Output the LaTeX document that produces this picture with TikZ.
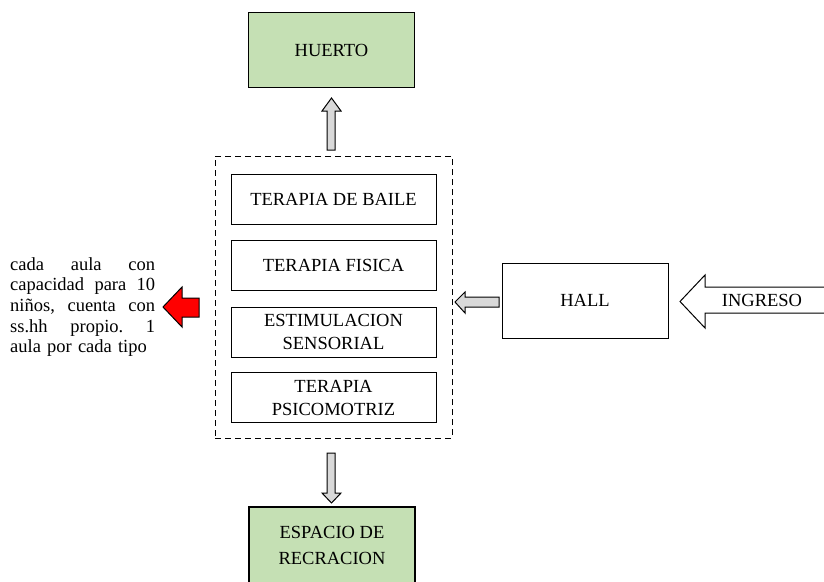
\documentclass[tikz,border=0pt]{standalone}
\usepackage{fontspec}
\setmainfont{Liberation Serif}
\definecolor{boxgreen}{RGB}{197,224,180}
\definecolor{arrgray}{RGB}{217,217,217}
\begin{document}
\begin{tikzpicture}[x=1pt,y=-1pt,
  every node/.style={font=\fontsize{18.5}{23}\selectfont, inner sep=0pt},
  greenbox/.style={draw=black, line width=1.3pt, fill=boxgreen, minimum width=166pt, minimum height=75pt, align=center},
  plainbox/.style={draw=black, line width=1pt, fill=white, minimum width=205pt, minimum height=50pt, align=center},
  blockarrow/.style={draw=black, line width=1pt, fill=arrgray, line join=miter}]
\useasboundingbox (0,0) rectangle (824,581);
\clip (0,0) rectangle (824,581);
% boxes
\node[greenbox] (huerto) at (331.5,50) {HUERTO};
\node[greenbox, minimum height=76pt, font=\fontsize{18.5}{26}\selectfont] (espacio) at (332,545) {ESPACIO DE\\RECRACION};
\node[draw=black, line width=1pt, dash pattern=on 6pt off 4pt, minimum width=237pt, minimum height=282pt] (group) at (333.5,297) {};
\node[plainbox] (baile) at (333.5,199) {TERAPIA DE BAILE};
\node[plainbox] (fisica) at (333.5,265.5) {TERAPIA FISICA};
\node[plainbox] (estim) at (333.5,332) {ESTIMULACION\\SENSORIAL};
\node[plainbox] (psico) at (333.5,397.5) {TERAPIA\\PSICOMOTRIZ};
\node[draw=black, line width=1pt, minimum width=166pt, minimum height=75pt] (hall) at (585,300.5) {HALL};
% up arrow
\draw[blockarrow] (327,150) -- (327,111) -- (322,111) -- (331.5,98) -- (341,111) -- (335,111) -- (335,150) -- cycle;
% down arrow
\draw[blockarrow] (327,453) -- (327,493) -- (322,493) -- (331.5,503) -- (341,493) -- (335,493) -- (335,453) -- cycle;
% hall to group arrow
\draw[blockarrow] (499,297) -- (465,297) -- (465,292) -- (455,302) -- (465,313) -- (465,307) -- (499,307) -- cycle;
% ingreso arrow
\draw[line width=1pt, fill=white] (840,287) -- (705,287) -- (705,275) -- (680,301.5) -- (705,328) -- (705,313) -- (840,313);
\node (ingreso) at (762,300) {INGRESO};
% red arrow
\draw[line width=1pt, fill=red] (199,298) -- (182,298) -- (182,287) -- (163,307) -- (182,327) -- (182,317) -- (199,317) -- cycle;
% note
\node[anchor=north west, align=left, text width=146pt, font=\fontsize{18.5}{20.7}\selectfont] (note) at (10,257) {%
\leavevmode\hbox to 145pt{cada\hfil aula\hfil con}\\
\leavevmode\hbox to 145pt{capacidad\hfil para\hfil 10}\\
\leavevmode\hbox to 145pt{niños,\hfil cuenta\hfil con}\\
\leavevmode\hbox to 145pt{ss.hh\hfil propio.\hfil 1}\\
aula por cada tipo};
\end{tikzpicture}
\end{document}
